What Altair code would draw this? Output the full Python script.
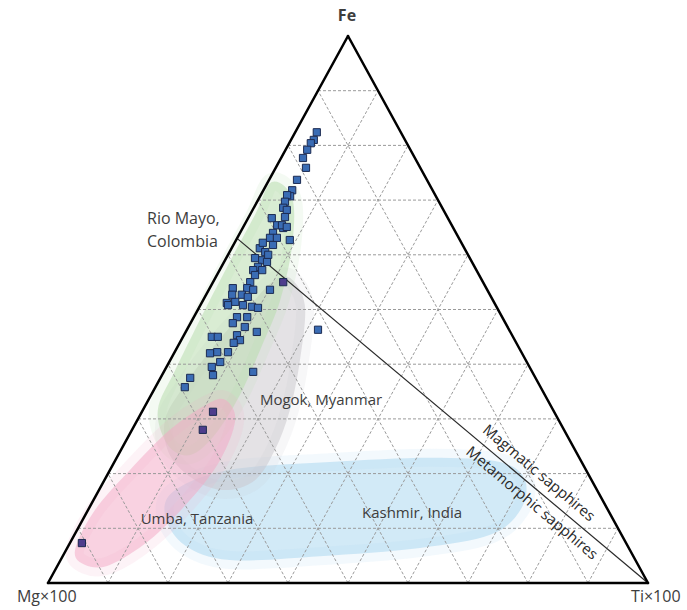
import altair as alt
import pandas as pd

# ---------------- data (percent compositions; Mg = 100 - Fe - Ti) ----------------
sample_fe = [82.4, 81.0, 80.4, 79.2, 77.7, 75.9, 73.7, 71.8, 70.7, 70.9, 69.7, 68.6, 68.2,
             66.9, 66.7, 65.4, 64.9, 64.0, 62.7, 65.4, 65.1, 63.1, 61.8, 61.2, 60.5, 59.4,
             59.0, 58.7, 57.8, 57.2, 57.2, 55.0, 53.6, 55.0, 56.3, 53.9, 53.6, 53.9, 52.7,
             52.3, 51.2, 51.4, 50.8, 50.5, 50.3, 48.6, 48.6, 47.5, 46.8, 45.9, 45.0, 45.0,
             45.3, 44.4, 43.9, 42.2, 42.2, 42.0, 40.4, 39.5, 38.0, 37.5, 35.8, 38.6, 46.3,
             31.3, 28.0, 7.3, 52.7, 50.8, 60.0, 62.2, 63.1]
sample_ti = [3.6, 3.8, 3.6, 3.6, 3.65, 5.05, 4.65, 4.8, 5.0, 4.4, 4.65, 4.9, 5.7,
             6.05, 3.95, 5.5, 6.75, 5.5, 8.95, 6.3, 7.25, 5.45, 6.6, 4.7, 5.95, 4.8,
             6.2, 7.15, 6.1, 5.6, 7.1, 11.7, 10.2, 6.2, 6.35, 6.25, 7.4, 3.85, 5.95,
             7.15, 4.2, 5.5, 7.1, 8.75, 9.85, 7.2, 8.9, 7.05, 9.4, 11.85, 4.8, 5.8,
             8.85, 9.8, 9.0, 8.9, 7.1, 6.0, 8.5, 7.55, 8.5, 4.95, 4.9, 14.9, 21.85,
             11.85, 11.8, 2.0, 4.35, 4.6, 6.7, 4.7, 6.6]
sample_group = ["blue"] * 31 + ["violet"] + ["blue"] * 33 + ["violet"] * 3 + ["blue"] * 5

# origin fields (outline points, percent Fe / Ti)
kashmir_fe = [17.0, 20.7, 22.1, 22.9, 22.1, 18.8, 13.3, 8.8, 6.4, 4.9, 4.2, 6.9, 12.4]
kashmir_ti = [12.7, 19.95, 35.95, 52.25, 64.25, 70.1, 72.05, 69.3, 58.8, 42.85, 28.2, 19.35, 13.3]
riomayo_fe = [73.3, 70.4, 61.8, 51.7, 43.5, 34.4, 27.1, 23.4, 25.2, 31.6, 38.9, 48.1, 58.1, 67.3]
riomayo_ti = [0.65, 5.5, 9.8, 12.85, 13.95, 14.8, 14.25, 12.0, 7.4, 2.5, 1.75, 1.25, 0.95, 0.85]
umba_fe = [33.5, 29.8, 22.5, 15.2, 7.9, 3.3, 3.3, 6.0, 13.3, 20.7, 28.0, 32.5]
umba_ti = [12.75, 16.3, 17.45, 16.1, 13.05, 8.65, 4.55, 1.5, 1.15, 3.35, 6.3, 9.95]
mogok_fe = [55.8, 50.8, 40.8, 31.6, 24.3, 18.8, 17.0, 18.8, 23.4, 29.8, 36.2, 43.5, 50.8, 55.0]
mogok_ti = [12.4, 17.4, 21.6, 24.5, 25.65, 25.1, 21.0, 15.1, 8.6, 4.6, 4.7, 6.05, 8.3, 9.8]

grid_levels = [10, 20, 30, 40, 50, 60, 70, 80, 90]
divider_fe = 63.0  # boundary meets the Fe–Mg edge here, runs to the Ti apex

# labels (x, y in plot fractions)
apex_text = ["Fe"]
apex_x = [0.4983]
apex_y = [1.0366]
base_text = ["Mg×100", "Ti×100"]
base_x = [-0.002, 1.013]
base_y = [-0.026, -0.026]

region_text = ["Rio Mayo,", "Colombia", "Mogok, Myanmar", "Umba, Tanzania", "Kashmir, India"]
region_x = [0.165, 0.165, 0.455, 0.2483, 0.6067]
region_y = [0.6654, 0.6234, 0.3346, 0.117, 0.128]
region_align = ["left", "left", "center", "center", "center"]

# ---------------- helpers ----------------
SX = alt.Scale(domain=[0, 1], nice=False, zero=False)
SY = alt.Scale(domain=[0, 1], nice=False, zero=False)
FONT = "Open Sans"
TXT = "#3d3d3d"


def tern(prefix_fe, prefix_ti, xname, yname):
    return {xname: f"datum.{prefix_ti}/100 + datum.{prefix_fe}/200",
            yname: f"datum.{prefix_fe}/100"}


def XY():
    return dict(x=alt.X("x:Q", scale=SX, axis=None), y=alt.Y("y:Q", scale=SY, axis=None))


def region_layer(fe, ti, color, op):
    df = pd.DataFrame({"Fe": fe, "Ti": ti, "i": list(range(len(fe)))})
    return alt.Chart(df).transform_calculate(**tern("Fe", "Ti", "x", "y")).mark_line(
        interpolate="cardinal-closed", fill=color, fillOpacity=op,
        stroke=color, strokeOpacity=op * 0.28, strokeWidth=18, strokeJoin="round"
    ).encode(order="i:Q", **XY())


layers = [
    region_layer(kashmir_fe, kashmir_ti, "#a9d6ef", 0.52),
    region_layer(mogok_fe, mogok_ti, "#c9c5cc", 0.5),
    region_layer(riomayo_fe, riomayo_ti, "#b9dcae", 0.55),
    region_layer(umba_fe, umba_ti, "#f4a9c6", 0.52),
]


def segments(rows, **mark):
    return alt.Chart(pd.DataFrame(rows)).transform_calculate(
        **tern("Fe1", "Ti1", "x", "y"), **tern("Fe2", "Ti2", "x2", "y2")
    ).mark_rule(**mark).encode(x2="x2:Q", y2="y2:Q", **XY())


# grid
g_rows = []
for k in grid_levels:
    g_rows.append({"Fe1": k, "Ti1": 0, "Fe2": k, "Ti2": 100 - k})
    g_rows.append({"Fe1": 0, "Ti1": k, "Fe2": 100 - k, "Ti2": k})
    g_rows.append({"Fe1": 0, "Ti1": 100 - k, "Fe2": 100 - k, "Ti2": 0})
layers.append(segments(g_rows, color="#9a9a9a", strokeDash=[3, 2], strokeWidth=1))

# divider line
layers.append(segments([{"Fe1": divider_fe, "Ti1": 0, "Fe2": 0, "Ti2": 100}],
                       color="#2a2a2a", strokeWidth=1.2))

# outline
layers.append(segments([
    {"Fe1": 0, "Ti1": 0, "Fe2": 0, "Ti2": 100},
    {"Fe1": 0, "Ti1": 100, "Fe2": 100, "Ti2": 0},
    {"Fe1": 100, "Ti1": 0, "Fe2": 0, "Ti2": 0},
], color="black", strokeWidth=2.5, strokeCap="round"))

# samples
pts = pd.DataFrame({"Fe": sample_fe, "Ti": sample_ti, "group": sample_group})
layers.append(alt.Chart(pts).transform_calculate(**tern("Fe", "Ti", "x", "y")).mark_square(
    size=52, filled=True, stroke="#1c2b52", strokeWidth=1.0, opacity=1
).encode(
    fill=alt.Fill("group:N", scale=alt.Scale(domain=["blue", "violet"],
                                             range=["#3a6cb4", "#4e3d8c"]), legend=None),
    **XY()))

# vertex labels
layers.append(alt.Chart(pd.DataFrame({"t": apex_text, "x": apex_x, "y": apex_y})).mark_text(
    font=FONT, fontSize=16, fontWeight="bold", color=TXT, align="center", baseline="middle"
).encode(text="t:N", **XY()))
layers.append(alt.Chart(pd.DataFrame({"t": base_text, "x": base_x, "y": base_y})).mark_text(
    font=FONT, fontSize=16, color=TXT, align="center", baseline="middle"
).encode(text="t:N", **XY()))

for t, x, y, a in zip(region_text, region_x, region_y, region_align):
    layers.append(alt.Chart(pd.DataFrame({"t": [t], "x": [x], "y": [y]})).mark_text(
        font=FONT, fontSize=16 if a == "left" else 15, color=TXT, align=a, baseline="middle"
    ).encode(text="t:N", **XY()))

# rotated boundary labels
bl = pd.DataFrame({"t": ["Magmatic sapphires", "Metamorphic sapphires"],
                   "x": [0.8183, 0.8067], "y": [0.2011, 0.1463]})
layers.append(alt.Chart(bl).mark_text(
    font=FONT, fontSize=15, color="#2a2a2a", align="center", baseline="middle", angle=40
).encode(text="t:N", **XY()))

chart = alt.layer(*layers).properties(
    width=600, height=547,
    padding={"left": 48, "top": 36, "right": 39, "bottom": 27},
    autosize=alt.AutoSizeParams(type="none"),
    background="white",
).configure_view(stroke=None)

chart.save("out.html", embed_options={"renderer": "svg", "actions": False})
